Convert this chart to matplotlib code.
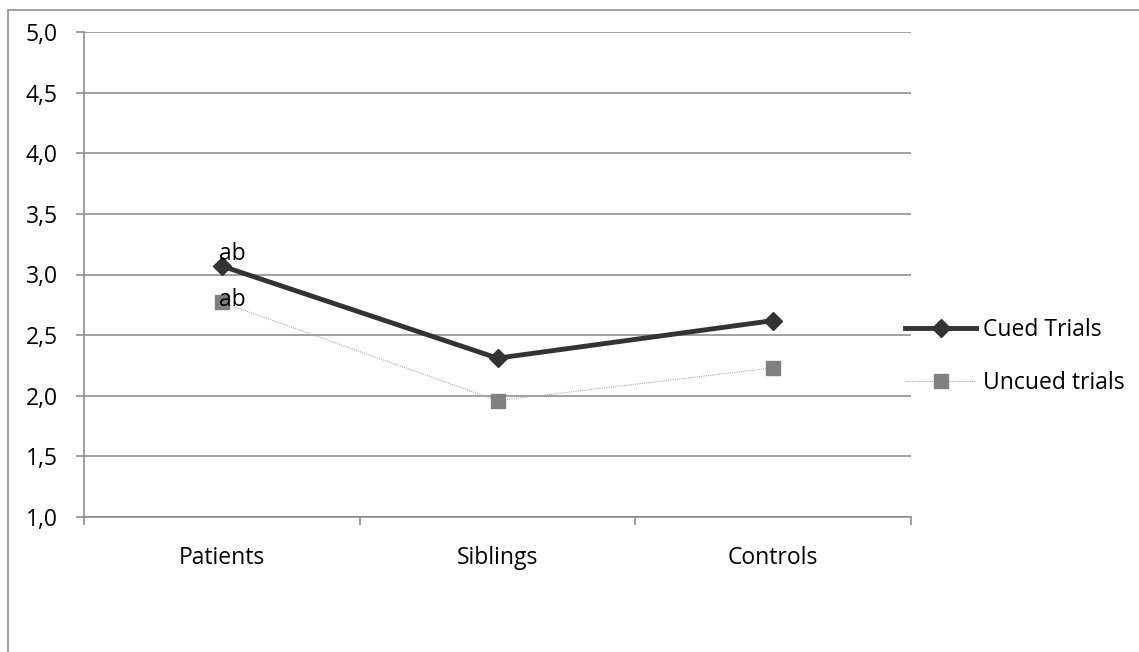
import matplotlib.pyplot as plt
import matplotlib.patches as patches

# Chart data
groups = ["Patients", "Siblings", "Controls"]
cued = [3.07, 2.31, 2.62]
uncued = [2.77, 1.96, 2.23]
y_ticks = [1.0, 1.5, 2.0, 2.5, 3.0, 3.5, 4.0, 4.5, 5.0]
notes = ["ab", "ab"]

plt.rcParams["font.family"] = ["Open Sans", "DejaVu Sans"]
fs = 16.5
grey = "#868686"

fig = plt.figure(figsize=(11.39, 6.52), dpi=100)
ax = fig.add_axes([84 / 1139, 1 - 517 / 652, (911 - 84) / 1139, (517 - 32) / 652])

xs = [i + 0.5 for i in range(len(groups))]

# Gridlines
for v in y_ticks:
    ax.axhline(v, color=grey, lw=1.1, zorder=1)

# Series
ax.plot(xs, uncued, color="#aaaaaa", lw=0.8, ls=(0, (1, 1)), marker="s", ms=10,
        mfc="#808080", mec="#808080", label="Uncued trials", zorder=2)
ax.plot(xs, cued, color="#333333", lw=3.5, marker="D", ms=9.5,
        mfc="#333333", mec="#333333", label="Cued Trials", zorder=3)

# "ab" labels at patients
ax.annotate(notes[0], (xs[0], cued[0]), xytext=(-2, 0), textcoords="offset points",
            ha="left", va="bottom", fontsize=fs, zorder=4)
ax.annotate(notes[1], (xs[0], uncued[0]), xytext=(-2, 2), textcoords="offset points",
            ha="left", va="center", fontsize=fs, zorder=4)

ax.set_xlim(0, 3)
ax.set_ylim(1.0, 5.0)
ax.set_yticks(y_ticks)
ax.set_yticklabels([f"{v:.1f}".replace(".", ",") for v in y_ticks], fontsize=fs)
ax.set_xticks([0, 1, 2, 3])
ax.set_xticklabels([])
ax.set_xticks(xs, minor=True)
ax.set_xticklabels(groups, minor=True, fontsize=fs)
ax.tick_params(axis="x", which="major", length=6, width=1.1, color=grey, direction="out")
ax.tick_params(axis="x", which="minor", length=0, pad=21)
ax.tick_params(axis="y", length=6, width=1.1, color=grey, direction="out", pad=13)

for s in ["top", "right"]:
    ax.spines[s].set_visible(False)
for s in ["left", "bottom"]:
    ax.spines[s].set_color(grey)
    ax.spines[s].set_linewidth(1.1)

# Legend
handles, labels = ax.get_legend_handles_labels()
fig.legend(handles[::-1], labels[::-1], loc="center left",
           bbox_to_anchor=(905 / 1139, 1 - 356.5 / 652), frameon=False,
           fontsize=fs, handlelength=3.1, handletextpad=0.3, labelspacing=1.3,
           borderpad=0, borderaxespad=0)

# Chart area border
fig.patches.append(patches.Rectangle((8 / 1139, -0.1), 1.2, 1 - 10 / 652 + 0.1,
                                     transform=fig.transFigure, fill=False,
                                     edgecolor=grey, lw=1.1))

fig.savefig("out.png", dpi=100)
